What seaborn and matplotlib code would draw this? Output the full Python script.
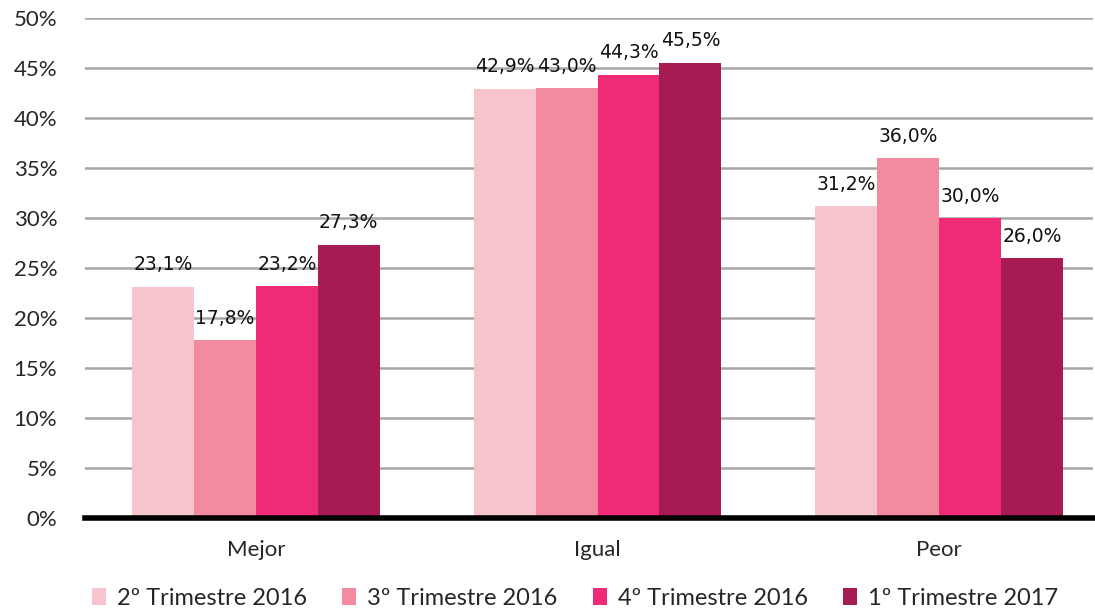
import matplotlib
matplotlib.use("Agg")
from matplotlib import pyplot as plt
import numpy as np
import pandas as pd
import seaborn as sns

# Data
categorias = ['Mejor', 'Igual', 'Peor']
series = ['2º Trimestre 2016', '3º Trimestre 2016', '4º Trimestre 2016', '1º Trimestre 2017']
t2_2016 = [23.1, 42.9, 31.2]
t3_2016 = [17.8, 43.0, 36.0]
t4_2016 = [23.2, 44.3, 30.0]
t1_2017 = [27.3, 45.5, 26.0]
colores = ['#F7C3CC', '#F38BA0', '#EE2B74', '#A61C52']

valores = [t2_2016, t3_2016, t4_2016, t1_2017]
rows = []
for s, vals in zip(series, valores):
    for c, v in zip(categorias, vals):
        rows.append({'cat': c, 'serie': s, 'val': v})
df = pd.DataFrame(rows)

sns.set_style('white')
plt.rcParams['font.family'] = ['Lato', 'DejaVu Sans']

fig = plt.figure(figsize=(10.95, 6.09), dpi=100)
ax = fig.add_axes([85 / 1095, 91 / 609, 1008 / 1095, 500 / 609])

sns.barplot(data=df, x='cat', y='val', hue='serie', palette=colores,
            width=0.725, saturation=1, linewidth=0, ax=ax, legend=True)

# Labels above bars
for cont, vals in zip(ax.containers, valores):
    labs = [f"{v:.1f}%".replace('.', ',') for v in vals]
    ax.bar_label(cont, labels=labs, padding=9, fontsize=13.5,
                 family='DejaVu Sans', color='#111111')

ax.set_ylim(0, 50)
ax.set_xlim(-0.5, 2.45)
ax.set_yticks(np.arange(0, 51, 5))
ax.set_yticklabels([f"{t}%" for t in range(0, 51, 5)], fontsize=16)
ax.tick_params(axis='x', labelsize=16, length=0, pad=16)
ax.tick_params(axis='y', length=0, pad=20)
ax.set_xlabel('')
ax.set_ylabel('')

ax.grid(axis='y', color='#A6A6A6', linewidth=1.8)
ax.set_axisbelow(True)
for s in ['top', 'right', 'left']:
    ax.spines[s].set_visible(False)
ax.spines['bottom'].set_color('black')
ax.spines['bottom'].set_linewidth(4)
ax.spines['bottom'].set_zorder(5)

ax.legend(loc='lower center', bbox_to_anchor=(0.5 - 14 / 1008, -0.2), ncol=4,
          frameon=False, fontsize=17, handlelength=0.6, handleheight=0.7,
          handletextpad=0.45, columnspacing=1.5, borderaxespad=0)

fig.savefig('out.png', dpi=100)
